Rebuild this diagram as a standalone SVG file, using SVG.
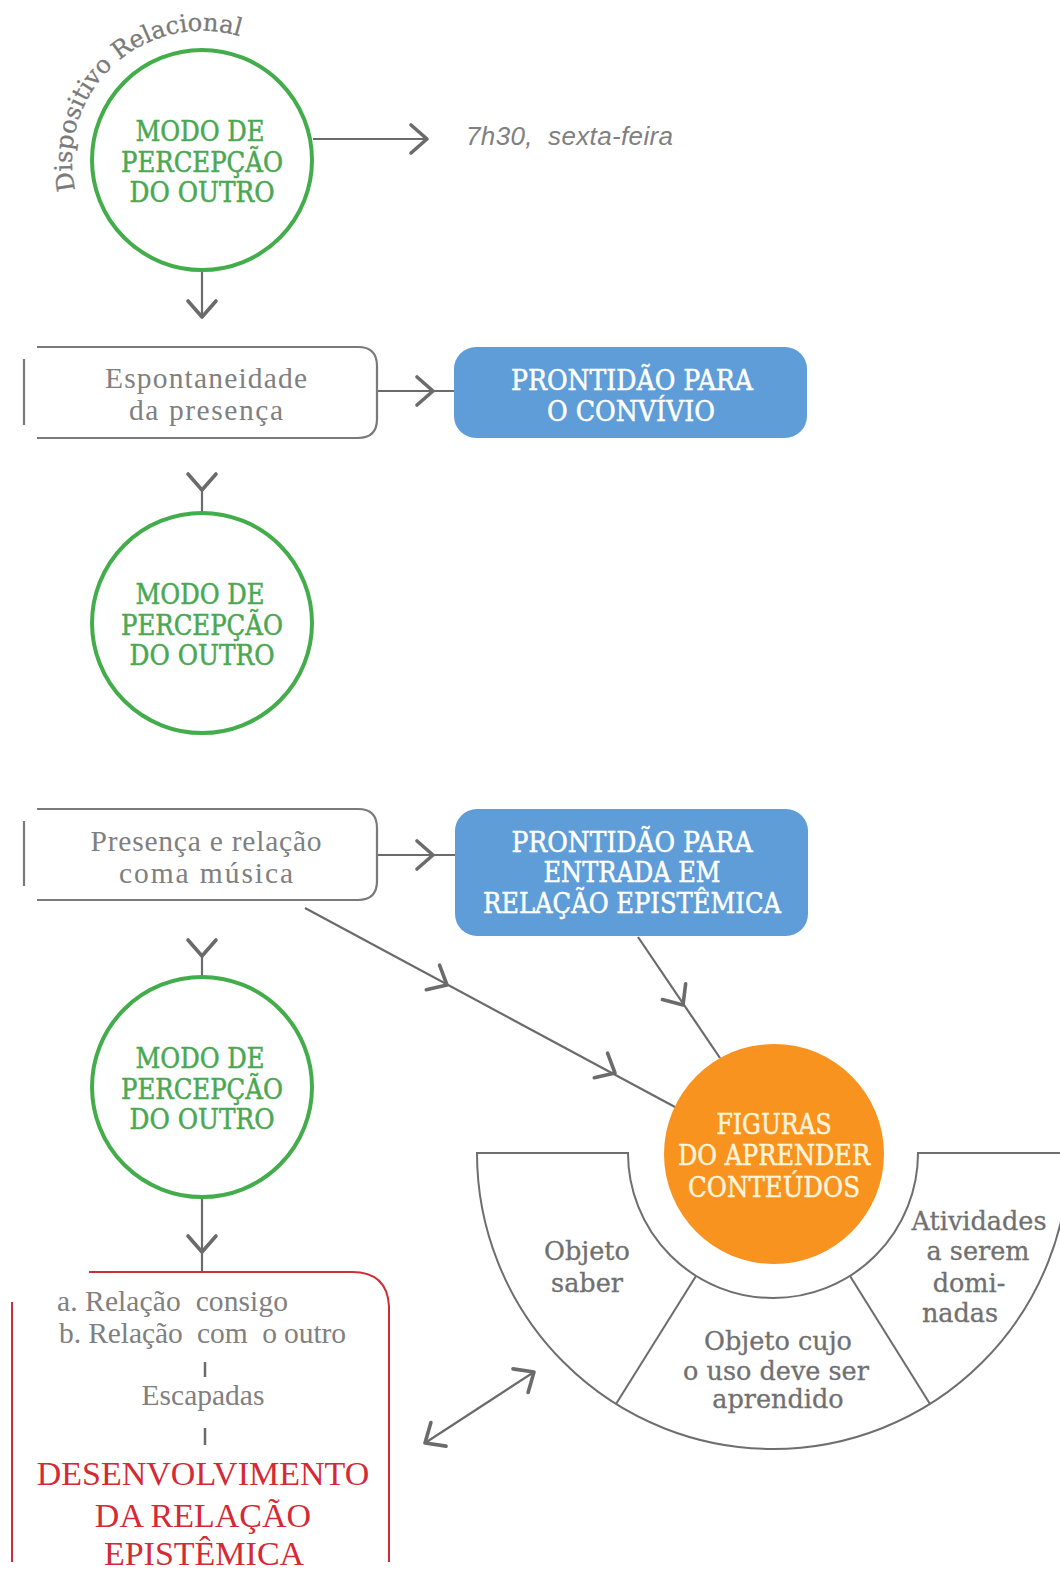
<svg xmlns="http://www.w3.org/2000/svg" width="1060" height="1586" viewBox="0 0 1060 1586">
<style>
.bg{fill:#ffffff}
.circ{fill:#ffffff;stroke:#43ad4b;stroke-width:4}
.slab{font-family:'DejaVu Serif Condensed','DejaVu Serif',serif;font-stretch:condensed;font-size:28px;text-anchor:middle;stroke-width:0.5}
.ctext{fill:#4aa852;stroke:#4aa852}
.btext{fill:#ffffff;stroke:#ffffff}
.otext{fill:#fff4dc;stroke:#fff4dc}
.atext{font-family:'DejaVu Serif',serif;font-size:25.5px;fill:#707070;stroke:#707070;stroke-width:0.3;text-anchor:middle}
.arc{font-family:'DejaVu Serif',serif;font-size:24.5px;fill:#7a7a7a;stroke:#7a7a7a;stroke-width:0.3}
.stext{font-family:'Liberation Serif','Times New Roman',serif;font-size:29.5px;fill:#808080;text-anchor:middle}
.rtext{font-family:'Liberation Serif','Times New Roman',serif;font-size:34px;fill:#d42a35;text-anchor:middle}
.frame{fill:none;stroke:#7a7a7a;stroke-width:2.2}
.red{fill:none;stroke:#cc2e38;stroke-width:2}
.blue{fill:#5e9dd8}
.conn{fill:none;stroke:#6b6b6b;stroke-width:2.2}
.chev{fill:none;stroke:#6b6b6b;stroke-width:3.6;stroke-linecap:round;stroke-linejoin:round}
.ann{fill:none;stroke:#6e6e6e;stroke-width:2}
</style>
<defs>
<path id="chev" d="M -16 -14 L 0 0 L -16 14"/>
<path id="arcPath" d="M 75.3 190.2 A 130 130 0 0 1 246 38.5"/>
</defs>
<rect class="bg" x="0" y="0" width="1060" height="1586"/>

<g id="connectors">
  <line class="conn" x1="313" y1="139" x2="427" y2="139"/>
  <use href="#chev" class="chev" transform="translate(427,139)"/>
  <line class="conn" x1="202" y1="271" x2="202" y2="317"/>
  <use href="#chev" class="chev" transform="translate(202,317) rotate(90)"/>
  <line class="conn" x1="377" y1="391" x2="454" y2="391"/>
  <use href="#chev" class="chev" transform="translate(433,391)"/>
  <line class="conn" x1="202" y1="490" x2="202" y2="513"/>
  <use href="#chev" class="chev" transform="translate(202,490) rotate(90)"/>
  <line class="conn" x1="377" y1="855" x2="455" y2="855"/>
  <use href="#chev" class="chev" transform="translate(433,855)"/>
  <line class="conn" x1="202" y1="956" x2="202" y2="976"/>
  <use href="#chev" class="chev" transform="translate(202,956) rotate(90)"/>
  <line class="conn" x1="202" y1="1197" x2="202" y2="1272"/>
  <use href="#chev" class="chev" transform="translate(202,1252) rotate(90)"/>
  <line class="conn" x1="305" y1="908" x2="675" y2="1107"/>
  <use href="#chev" class="chev" transform="translate(447,985) rotate(28.3)"/>
  <use href="#chev" class="chev" transform="translate(615,1073) rotate(28.3)"/>
  <line class="conn" x1="638" y1="937" x2="720" y2="1058"/>
  <use href="#chev" class="chev" transform="translate(683,1005) rotate(55.9)"/>
  <line class="conn" x1="425" y1="1443" x2="534" y2="1372"/>
  <use href="#chev" class="chev" transform="translate(425,1443) rotate(147.3)"/>
  <use href="#chev" class="chev" transform="translate(534,1372) rotate(-32.7)"/>
</g>

<g id="label-relacional">
  <text class="arc"><textPath href="#arcPath" textLength="136" lengthAdjust="spacingAndGlyphs">Dispositivo</textPath></text>
  <text class="arc"><textPath href="#arcPath" startOffset="144" textLength="128" lengthAdjust="spacingAndGlyphs">Relacional</textPath></text>
</g>

<g id="circle1">
  <circle class="circ" cx="202" cy="160" r="110"/>
  <text class="slab ctext" x="200" y="141" textLength="129" lengthAdjust="spacingAndGlyphs">MODO DE</text>
  <text class="slab ctext" x="202" y="172" textLength="162" lengthAdjust="spacingAndGlyphs">PERCEPÇÃO</text>
  <text class="slab ctext" x="202" y="202" textLength="145" lengthAdjust="spacingAndGlyphs">DO OUTRO</text>
</g>

<g id="time-label">
  <text x="466" y="145" font-family="'Liberation Sans',Arial,sans-serif" font-style="italic" font-size="26" fill="#808080" textLength="207" xml:space="preserve">7h30,  sexta-feira</text>
</g>

<g id="box1">
  <path class="frame" d="M 37 347 H 358 Q 377 347 377 366 V 419 Q 377 438 358 438 H 37"/>
  <line class="frame" x1="24" y1="359" x2="24" y2="425"/>
  <text class="stext" x="206" y="388" textLength="202">Espontaneidade</text>
  <text class="stext" x="206" y="420" textLength="154">da presença</text>
</g>

<g id="blue1">
  <rect class="blue" x="454" y="347" width="353" height="91" rx="22"/>
  <text class="slab btext" x="632" y="390" textLength="242" lengthAdjust="spacingAndGlyphs">PRONTIDÃO PARA</text>
  <text class="slab btext" x="631" y="421" textLength="168" lengthAdjust="spacingAndGlyphs">O CONVÍVIO</text>
</g>

<g id="circle2">
  <circle class="circ" cx="202" cy="623" r="110"/>
  <text class="slab ctext" x="200" y="604" textLength="129" lengthAdjust="spacingAndGlyphs">MODO DE</text>
  <text class="slab ctext" x="202" y="635" textLength="162" lengthAdjust="spacingAndGlyphs">PERCEPÇÃO</text>
  <text class="slab ctext" x="202" y="665" textLength="145" lengthAdjust="spacingAndGlyphs">DO OUTRO</text>
</g>

<g id="box2">
  <path class="frame" d="M 37 809 H 358 Q 377 809 377 828 V 881 Q 377 900 358 900 H 37"/>
  <line class="frame" x1="24" y1="821" x2="24" y2="886"/>
  <text class="stext" x="206" y="851" textLength="231">Presença e relação</text>
  <text class="stext" x="206" y="883" textLength="174">coma música</text>
</g>

<g id="blue2">
  <rect class="blue" x="455" y="809" width="353" height="127" rx="22"/>
  <text class="slab btext" x="632" y="852" textLength="241" lengthAdjust="spacingAndGlyphs">PRONTIDÃO PARA</text>
  <text class="slab btext" x="632" y="882" textLength="177" lengthAdjust="spacingAndGlyphs">ENTRADA EM</text>
  <text class="slab btext" x="632" y="913" textLength="298" lengthAdjust="spacingAndGlyphs">RELAÇÃO EPISTÊMICA</text>
</g>

<g id="circle3">
  <circle class="circ" cx="202" cy="1087" r="110"/>
  <text class="slab ctext" x="200" y="1068" textLength="129" lengthAdjust="spacingAndGlyphs">MODO DE</text>
  <text class="slab ctext" x="202" y="1099" textLength="162" lengthAdjust="spacingAndGlyphs">PERCEPÇÃO</text>
  <text class="slab ctext" x="202" y="1129" textLength="145" lengthAdjust="spacingAndGlyphs">DO OUTRO</text>
</g>

<g id="annulus">
  <path class="ann" d="M 477 1153 A 296 296 0 0 0 1069 1153 L 918 1153 A 145 145 0 0 1 628 1153 Z"/>
  <line class="ann" x1="696" y1="1276" x2="616" y2="1404"/>
  <line class="ann" x1="850" y1="1276" x2="930" y2="1404"/>
  <text class="atext" x="587" y="1260">Objeto</text>
  <text class="atext" x="587" y="1292">saber</text>
  <text class="atext" x="778" y="1350">Objeto cujo</text>
  <text class="atext" x="776" y="1380">o uso deve ser</text>
  <text class="atext" x="778" y="1408">aprendido</text>
  <text class="atext" x="979" y="1230">Atividades</text>
  <text class="atext" x="978" y="1260">a serem</text>
  <text class="atext" x="969" y="1292">domi-</text>
  <text class="atext" x="960" y="1322">nadas</text>
</g>

<g id="orange">
  <circle cx="774" cy="1154" r="110" fill="#f7931e"/>
  <text class="slab otext" x="774" y="1134" textLength="115" lengthAdjust="spacingAndGlyphs">FIGURAS</text>
  <text class="slab otext" x="774" y="1165" textLength="192" lengthAdjust="spacingAndGlyphs">DO APRENDER</text>
  <text class="slab otext" x="774" y="1197" textLength="172" lengthAdjust="spacingAndGlyphs">CONTEÚDOS</text>
</g>

<g id="redbox">
  <path class="red" d="M 89 1272 H 352 Q 387 1272 389 1306 V 1562"/>
  <line class="red" x1="12" y1="1302" x2="12" y2="1562"/>
  <text class="stext" x="57" y="1311" style="text-anchor:start" font-size="29" textLength="231" xml:space="preserve">a. Relação  consigo</text>
  <text class="stext" x="59" y="1343" style="text-anchor:start" font-size="29" textLength="287" xml:space="preserve">b. Relação  com  o outro</text>
  <line x1="205" y1="1362" x2="205" y2="1377" stroke="#6b6b6b" stroke-width="2.5"/>
  <text class="stext" x="203" y="1405" font-size="29">Escapadas</text>
  <line x1="205" y1="1428" x2="205" y2="1445" stroke="#6b6b6b" stroke-width="2.5"/>
  <text class="rtext" x="203" y="1485">DESENVOLVIMENTO</text>
  <text class="rtext" x="203" y="1527">DA RELAÇÃO</text>
  <text class="rtext" x="204" y="1565">EPISTÊMICA</text>
</g>
</svg>
